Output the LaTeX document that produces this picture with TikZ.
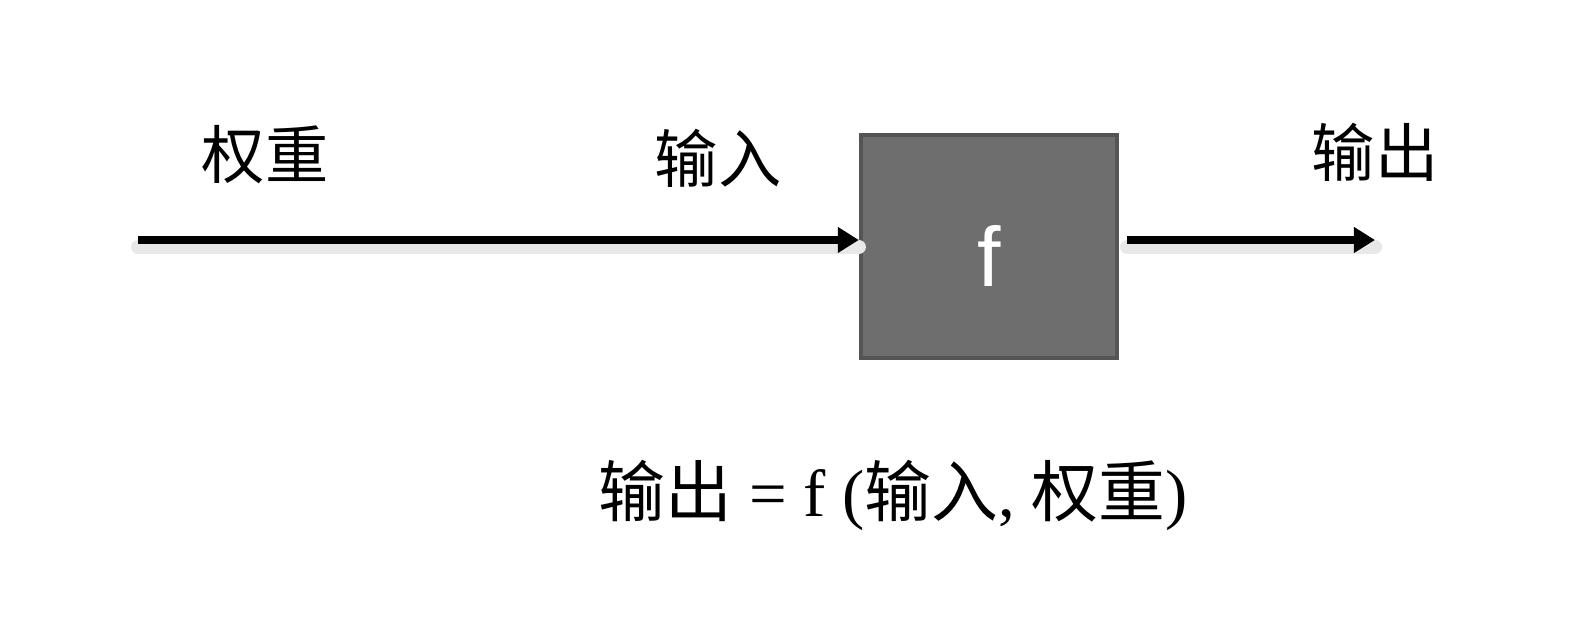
\documentclass[tikz,border=0pt]{standalone}
\usepackage{fontspec}
\setmainfont{Liberation Serif}
\newfontfamily\cjk{Noto Sans CJK SC}
\newfontfamily\boxfont{Liberation Sans}
\usetikzlibrary{arrows.meta}
\definecolor{boxgray}{HTML}{6E6E6E}
\definecolor{boxedge}{HTML}{555555}

\begin{document}
\begin{tikzpicture}[
  lbl/.style={font=\fontsize{18}{20}\selectfont\cjk},
  fbox/.style={draw=boxedge, line width=1.2pt, fill=boxgray, minimum width=2.56cm, minimum height=2.23cm},
  wire/.style={line width=2.1pt, -{Triangle[length=6pt,width=7pt]}},
  shade/.style={line width=4pt, gray!18, line cap=round}]
\useasboundingbox (0,0) rectangle (15.71,6.39);
\node[fbox] (f) at (9.89,3.925) {};
\node[text=white, font=\fontsize{24}{26}\selectfont\boxfont] (fl) at (9.89,3.83) {f};
\coordinate (in) at (1.38,3.99);
\coordinate (o1) at (11.27,3.99);
\coordinate (o2) at (13.75,3.99);
% shadows of the arrows
\draw[shade] ([yshift=-2pt]in) -- ([yshift=-2pt]f.west |- in);
\draw[shade] ([yshift=-2pt]o1) -- ([yshift=-2pt]o2);
\draw[wire] (in) -- (f.west |- in);
\draw[wire] (o1) -- (o2);
\node[lbl] (w) at (2.65,4.84) {权重};
\node[lbl] (x) at (7.18,4.81) {输入};
\node[lbl] (y) at (13.75,4.87) {输出};
\node[font=\fontsize{19}{21}\selectfont] (eq) at (8.93,1.44) {{\cjk 输出} = f ({\cjk 输入}, {\cjk 权重})};
\end{tikzpicture}
\end{document}
